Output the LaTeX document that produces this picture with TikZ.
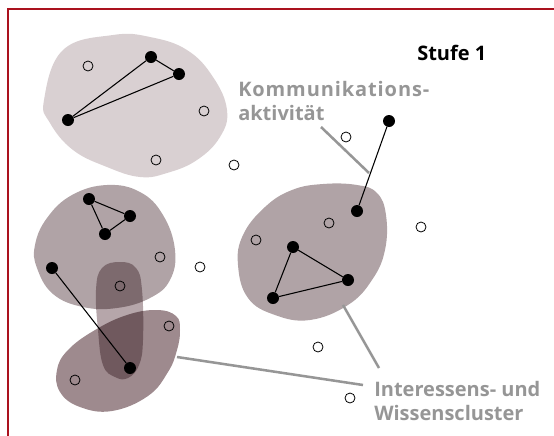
\documentclass[tikz,border=0pt]{standalone}
\usepackage{fontspec}
\setmainfont{Open Sans}
\usetikzlibrary{positioning}

\definecolor{rahmen}{RGB}{170,18,30}
\definecolor{hell}{RGB}{217,208,210}
\definecolor{mittel}{RGB}{176,163,166}
\definecolor{dunkel}{RGB}{158,138,142}
\definecolor{kern}{RGB}{182,166,170}
\definecolor{beschrift}{RGB}{150,150,150}

\tikzset{
  akteur/.style={circle, fill=black, inner sep=0pt, minimum size=9pt},
  passiv/.style={circle, draw=black, line width=0.6pt, inner sep=0pt, minimum size=7.5pt},
  kontakt/.style={black, line width=0.8pt},
  hinweis/.style={beschrift, line width=1.9pt},
  etikett/.style={font=\fontsize{15}{17.5}\selectfont\bfseries, text=beschrift, align=left, inner sep=0pt}
}

\begin{document}
\begin{tikzpicture}[x=0.75pt,y=-0.75pt]
	\useasboundingbox (0,0) rectangle (554,436);
	\draw [rahmen, line width=1.5pt] (8,436) -- (8,9) -- (554,9);
	% Cluster
	\fill [hell] plot [smooth cycle, tension=0.7] coordinates {(44,100) (63,50) (113,35) (150,37) (187,50) (213,77) (227,110) (220,137) (197,160) (167,173) (140,177) (107,167) (73,150) (50,123)};
	\fill [mittel] plot [smooth cycle, tension=0.7] coordinates {(323,184) (357,185) (377,193) (386,215) (385,250) (372,280) (348,305) (310,320) (275,315) (248,298) (238,265) (243,235) (265,207) (292,190)};
	\fill [mittel] plot [smooth cycle, tension=0.7] coordinates {(107,185) (140,192) (163,215) (175,250) (170,280) (150,298) (117,308) (83,307) (53,294) (37,268) (35,245) (47,218) (72,195)};
	\fill [dunkel] plot [smooth cycle, tension=0.7] coordinates {(157,310) (176,316) (180,330) (177,350) (168,372) (148,396) (112,411) (80,407) (60,392) (57,370) (68,350) (95,330) (127,315)};
	\begin{scope}[blend mode=multiply]
		\fill [kern] plot [smooth cycle, tension=0.7] coordinates {(120,262) (136,268) (142,290) (143,340) (139,365) (128,378) (115,377) (103,365) (98,330) (96,290) (102,268)};
	\end{scope}
	% Akteure
	\node [akteur] (b1) at (151,57) {};
	\node [akteur] (b2) at (179,74) {};
	\node [akteur] (b3) at (68,120) {};
	\node [akteur] (k1) at (389,121) {};
	\node [akteur] (k2) at (357,211) {};
	\node [akteur] (r1) at (293,247) {};
	\node [akteur] (r2) at (348,280) {};
	\node [akteur] (r3) at (273,298) {};
	\node [akteur] (m1) at (89,199) {};
	\node [akteur] (m2) at (130,216) {};
	\node [akteur] (m3) at (105,234) {};
	\node [akteur] (m4) at (52,268) {};
	\node [akteur] (m5) at (130,368) {};
	\foreach \name/\pos in {o1/{(88,66)}, o2/{(204,111)}, o3/{(156,160)}, o4/{(234,165)}, o5/{(346,137)}, o6/{(329,223)}, o7/{(256,240)}, o8/{(421,227)}, o9/{(200,267)}, o10/{(318,347)}, o11/{(350,398)}, o12/{(160,257)}, o13/{(120,286)}, o14/{(169,326)}, o15/{(75,380)}}
		\node [passiv] (\name) at \pos {};
	% Kontakte
	\draw [kontakt] (b1) -- (b2) -- (b3) -- (b1);
	\draw [kontakt] (m1) -- (m2) -- (m3) -- (m1);
	\draw [kontakt] (r1) -- (r2) -- (r3) -- (r1);
	\draw [kontakt] (k1) -- (k2);
	\draw [kontakt] (m4) -- (m5);
	% Beschriftung
	\node [font=\fontsize{15}{17}\selectfont\bfseries, inner sep=0pt, anchor=base west] (stufe) at (417,60) {Stufe 1};
	\node [etikett, anchor=base west] (komm) at (238,120) {{\addfontfeature{LetterSpace=4.5}Kommunikations-}\\aktivität};
	\node [etikett, anchor=base west] (cluster) at (374,420) {Interessens- und\\Wissenscluster};
	\coordinate (kommA) at (321,127);
	\coordinate (kommB) at (369,173);
	\coordinate (clA) at (343,305);
	\coordinate (clB) at (379,368);
	\coordinate (clC) at (177,357);
	\coordinate (clD) at (363,385);
	\draw [hinweis] (kommA) -- (kommB);
	\draw [hinweis] (clA) -- (clB);
	\draw [hinweis] (clC) -- (clD);
\end{tikzpicture}
\end{document}
